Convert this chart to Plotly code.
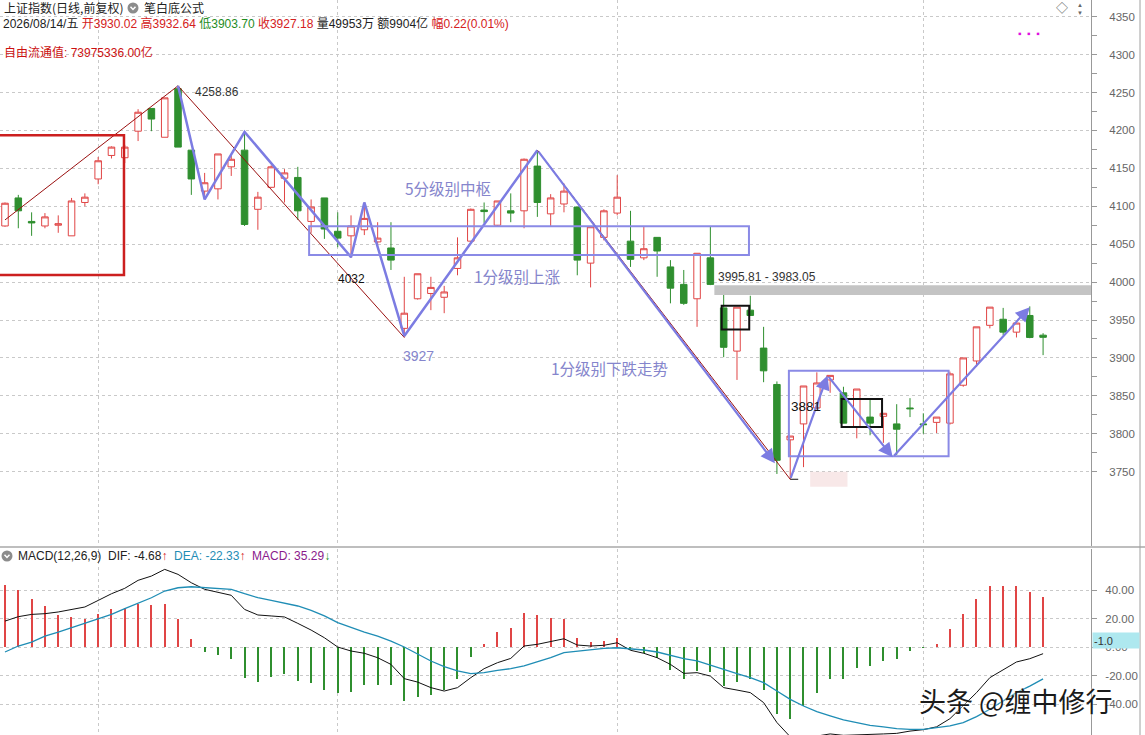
import plotly.graph_objects as go

# ---------------- data ----------------
dates = [
    "2026-04-22", "2026-04-23", "2026-04-24", "2026-04-27", "2026-04-28", "2026-04-29", "2026-04-30",
    "2026-05-06", "2026-05-07", "2026-05-08", "2026-05-11", "2026-05-12", "2026-05-13", "2026-05-14",
    "2026-05-15", "2026-05-18", "2026-05-19", "2026-05-20", "2026-05-21", "2026-05-22", "2026-05-25",
    "2026-05-26", "2026-05-27", "2026-05-28", "2026-05-29",
    "2026-06-01", "2026-06-02", "2026-06-03", "2026-06-04", "2026-06-05", "2026-06-08", "2026-06-09",
    "2026-06-10", "2026-06-11", "2026-06-12", "2026-06-15", "2026-06-16", "2026-06-17", "2026-06-18",
    "2026-06-22", "2026-06-23", "2026-06-24", "2026-06-25", "2026-06-26", "2026-06-29", "2026-06-30",
    "2026-07-01", "2026-07-02", "2026-07-03", "2026-07-06", "2026-07-07", "2026-07-08", "2026-07-09",
    "2026-07-10", "2026-07-13", "2026-07-14", "2026-07-15", "2026-07-16", "2026-07-17", "2026-07-20",
    "2026-07-21", "2026-07-22", "2026-07-23", "2026-07-24", "2026-07-27", "2026-07-28", "2026-07-29",
    "2026-07-30", "2026-07-31",
    "2026-08-03", "2026-08-04", "2026-08-05", "2026-08-06", "2026-08-07", "2026-08-10", "2026-08-11",
    "2026-08-12", "2026-08-13", "2026-08-14",
]

opens = [4074, 4111, 4080, 4074, 4075, 4061, 4105, 4136, 4167, 4164,
         4199, 4229, 4191, 4255, 4174, 4120, 4123, 4152, 4174, 4096,
         4125, 4137, 4138, 4080, 4111, 4067, 4061, 4069, 4053, 4045,
         3939, 3978, 3985, 3980, 4018, 4054, 4095, 4075, 4094, 4094,
         4153, 4090, 4103, 4099, 4025, 4059, 4091, 4054, 4032, 4059,
         4020, 3997, 3978, 4032, 3966, 3909, 3963, 3913, 3865, 3792,
         3813, 3834, 3871, 3854, 3809, 3822, 3823, 3813, 3834, 3813,
         3815, 3814, 3864, 3896, 3943, 3951, 3934, 3956, 3930.02]
highs = [4105, 4115, 4092, 4091, 4088, 4111, 4117, 4165, 4179, 4181,
         4228, 4229, 4243, 4258.86, 4174, 4144, 4169, 4167, 4196, 4119,
         4154, 4149, 4152, 4109, 4111, 4092, 4088, 4105, 4079, 4079,
         4007, 4011, 4007, 3995, 4059, 4097, 4105, 4107, 4117, 4163,
         4174, 4116, 4130, 4099, 4073, 4096, 4141, 4094, 4074, 4059,
         4029, 4016, 4038, 4074, 3983, 3967, 3982, 3941, 3869, 3797,
         3863, 3881, 3877, 3862, 3859, 3846, 3827, 3839, 3847, 3827,
         3822, 3882, 3900, 3941, 3967, 3966, 3946, 3968, 3932.64]
lows = [4073, 4071, 4061, 4071, 4065, 4061, 4100, 4129, 4163, 4157,
        4186, 4199, 4191, 4178, 4115, 4111, 4109, 4140, 4074, 4069,
        4124, 4105, 4082, 4065, 4057, 4046, 4032, 4062, 4047, 4016,
        3927, 3977, 3963, 3959, 4009, 4053, 4078, 4073, 4079, 4071,
        4086, 4074, 4092, 4009, 3993, 4055, 4088, 4020, 4029, 4007,
        3972, 3970, 3941, 3996, 3901, 3871, 3956, 3868, 3747, 3740,
        3756, 3834, 3854, 3814, 3794, 3798, 3788, 3772, 3822, 3800,
        3801, 3812, 3862, 3888, 3939, 3930, 3927, 3926, 3903.70]
closes = [4104, 4094, 4078, 4086, 4077, 4107, 4112, 4160, 4178, 4178,
          4224, 4215, 4243, 4178, 4136, 4131, 4169, 4162, 4076, 4112,
          4152, 4144, 4094, 4099, 4070, 4058, 4074, 4084, 4058, 4029,
          3959, 4011, 3993, 3987, 4032, 4096, 4093, 4107, 4091, 4162,
          4105, 4111, 4120, 4029, 4073, 4094, 4112, 4030, 4044, 4041,
          3992, 3972, 4038, 3997, 3914, 3967, 3956, 3883, 3765, 3797,
          3863, 3867, 3877, 3814, 3859, 3814, 3827, 3806, 3833, 3812,
          3822, 3879, 3900, 3941, 3967, 3934, 3946, 3927, 3927.18]

macd_hist = [43.5, 40, 33.9, 28.8, 22.5, 21, 19.9, 23.4, 26.9, 27.4,
             29.9, 29.5, 30.4, 19.9, 5.8, -3.5, -5.6, -8.2, -21.5, -24.6,
             -21.1, -18.7, -23.9, -25.5, -30.2, -32, -31.3, -26.9, -26.4, -26.9,
             -37.9, -35.1, -33.7, -30.2, -22.2, -7, 2.3, 10.5, 13.6, 24.1,
             22.2, 20.6, 19.9, 6.5, 3.5, 4.2, 6.5, -2, -4.4, -7.5,
             -16, -22.2, -16.8, -17.5, -27.4, -24.6, -22.7, -30.2, -47.3, -50.8,
             -41.4, -32, -22.2, -22.2, -14.5, -13.3, -9.8, -8.2, -2.8, -0.5,
             2.3, 12.9, 22.9, 33.5, 42.8, 42.8, 42.8, 38.8, 35.29]
dif = [18.2, 21.3, 22.9, 23.4, 24.6, 26.4, 28.1, 32.7, 37.4, 41.2,
       46.8, 49.8, 54.5, 51, 45.1, 40.5, 38.6, 36.3, 26.4, 22.5,
       21.8, 21.1, 16.6, 11.9, 6.5, 0, -2.8, -4.4, -7.5, -12.2,
       -22.2, -24.6, -28.5, -30.9, -28.5, -21.5, -15.2, -11, -8, 0.7,
       1.9, 3.7, 5.8, 1.4, 0.7, 1.2, 3, -2.3, -4.4, -7.5,
       -12.2, -18.5, -18, -20.4, -28.5, -30.2, -32, -39, -53, -63,
       -64, -62.5, -61, -62, -61.5, -61.3, -61, -60.6, -59, -58,
       -56, -50.3, -41.4, -32, -21.5, -15.7, -10.5, -8.2, -4.68]
dea = [-3.5, 0.7, 3.5, 7.7, 10.5, 13.6, 16.6, 19.9, 22.9, 26.9,
       30.6, 34.6, 39.3, 41.6, 42.3, 41.6, 41.2, 40.5, 37.4, 34.6,
       32.7, 30.6, 28.8, 25.7, 21.8, 17.1, 13.6, 10.5, 7.7, 4.2,
       0, -5.1, -9.8, -13.8, -16.8, -18.7, -18, -16.4, -15.2, -13.3,
       -10.5, -7.5, -4, -2.8, -1.6, -0.9, -0.5, -1.2, -2.1, -3.5,
       -5.8, -8.2, -9.8, -12.9, -15.7, -18.7, -21.5, -25, -30.9, -36.7,
       -41.4, -45.4, -48.4, -51.2, -53.1, -55, -56.1, -57.3, -57.8, -57.8,
       -56.6, -55.4, -53.1, -48.9, -43.7, -37.9, -32, -27.4, -22.33]

price_ticks = [3750, 3800, 3850, 3900, 3950, 4000, 4050, 4100, 4150, 4200, 4250, 4300, 4350]
macd_ticks = [-40, -20, 0, 20, 40]

# drawing annotations (bar index, price)
zig_x = [13, 15, 18, 26, 27, 30, 40]
zig_y = [4258.86, 4109, 4198, 4033, 4105, 3929, 4174]
arrow_x0 = [40, 59, 61.8, 66.7]
arrow_y0 = [4174, 3740, 3877, 3769]
arrow_x1 = [57.85, 61.8, 66.7, 77]
arrow_y1 = [3761, 3877, 3769, 3967]
red_line_x = [0, 13, 30]
red_line_y = [4082, 4258.86, 3927]
red_line2_x = [40, 59]
red_line2_y = [4174, 3740]
blue_rects = [(22.85, 4035.6, 55.9, 4073.8), (58.9, 3770.5, 70.9, 3883)]
black_rects = [(53.85, 3937.6, 55.92, 3968.7), (62.86, 3809, 65.9, 3846)]
red_rect = (-2, 4009.2, 8.94, 4193.8)
band_lo, band_hi = 3983.05, 3995.81

# ---------------- styles ----------------
RED = "#e04545"
GREEN = "#2f8f2f"
BLUE = "#7c7ce2"
BLUE_TXT = "#8585cc"
FONT = "Liberation Sans, Noto Sans CJK SC, sans-serif"
CJK = "Noto Sans CJK SC, Liberation Sans, sans-serif"
W, H = 1145, 735
PLOT_W = 1091


def px(xp):
    return xp / PLOT_W


def py(yp):
    return 1 - yp / H


xs = list(range(len(dates)))
month_starts = [i for i in range(1, len(dates)) if dates[i][5:7] != dates[i - 1][5:7]]

fig = go.Figure()

fig.add_trace(go.Candlestick(
    x=xs, open=opens, high=highs, low=lows, close=closes,
    increasing=dict(line=dict(color=RED, width=1), fillcolor="white"),
    decreasing=dict(line=dict(color=GREEN, width=1), fillcolor=GREEN),
    whiskerwidth=0, xaxis="x", yaxis="y", hoverinfo="skip", name="K"))

fig.add_trace(go.Scatter(x=red_line_x, y=red_line_y, mode="lines",
                         line=dict(color="#9a1010", width=1), xaxis="x", yaxis="y", hoverinfo="skip"))
fig.add_trace(go.Scatter(x=red_line2_x, y=red_line2_y, mode="lines",
                         line=dict(color="#9a1010", width=1), xaxis="x", yaxis="y", hoverinfo="skip"))
fig.add_trace(go.Scatter(x=zig_x, y=zig_y, mode="lines",
                         line=dict(color=BLUE, width=2.5), xaxis="x", yaxis="y", hoverinfo="skip"))

hist_colors = [RED if v >= 0 else GREEN for v in macd_hist]
fig.add_trace(go.Bar(x=xs, y=macd_hist, width=0.085, marker=dict(color=hist_colors, line=dict(width=0)),
                     xaxis="x2", yaxis="y2", hoverinfo="skip"))
fig.add_trace(go.Scatter(x=xs, y=dif, mode="lines", line=dict(color="#111111", width=1),
                         xaxis="x2", yaxis="y2", hoverinfo="skip"))
fig.add_trace(go.Scatter(x=xs, y=dea, mode="lines", line=dict(color="#1f8db5", width=1.3),
                         xaxis="x2", yaxis="y2", hoverinfo="skip"))

shapes = []
# gray band
shapes.append(dict(type="rect", xref="x", yref="y", x0=53.3, x1=81.7, y0=band_lo, y1=band_hi,
                   fillcolor="#c4c4c4", line=dict(width=0), layer="above"))
# red rect
shapes.append(dict(type="rect", xref="x", yref="y", x0=red_rect[0], y0=red_rect[1], x1=red_rect[2], y1=red_rect[3],
                   line=dict(color="#cc1f1f", width=2.5), layer="above"))
for r in blue_rects:
    shapes.append(dict(type="rect", xref="x", yref="y", x0=r[0], y0=r[1], x1=r[2], y1=r[3],
                       line=dict(color="#8a8ae6", width=2), layer="above"))
for r in black_rects:
    shapes.append(dict(type="rect", xref="x", yref="y", x0=r[0], y0=r[1], x1=r[2], y1=r[3],
                       line=dict(color="#111111", width=2), layer="above"))
# faint smudge near the low
shapes.append(dict(type="rect", xref="x", yref="y", x0=60.5, x1=63.3, y0=3730, y1=3750,
                   fillcolor="rgba(240,205,205,0.45)", line=dict(width=0), layer="above"))
# low marker
shapes.append(dict(type="line", xref="x", yref="y", x0=59, x1=59.6, y0=lows[59], y1=lows[59],
                   line=dict(color="#111", width=1), layer="above"))
# pane separator & frame lines
shapes.append(dict(type="line", xref="paper", yref="paper", x0=0, x1=px(W), y0=py(547), y1=py(547),
                   line=dict(color="#a8a8a8", width=1.5)))
shapes.append(dict(type="line", xref="paper", yref="paper", x0=px(1140), x1=px(1140), y0=0, y1=1,
                   line=dict(color="#a0a0a0", width=1)))
# round grey menu icons (circle + white chevron)
for cx, cy in [(133, 8), (7, 556)]:
    shapes.append(dict(type="circle", xref="paper", yref="paper",
                       x0=px(cx - 5.5), x1=px(cx + 5.5), y0=py(cy + 5.5), y1=py(cy - 5.5),
                       fillcolor="#8c8c8c", line=dict(width=0), layer="above"))
    shapes.append(dict(type="path", xref="paper", yref="paper",
                       path=f"M {px(cx - 2.5)} {py(cy - 1.2)} L {px(cx)} {py(cy + 1.5)} L {px(cx + 2.5)} {py(cy - 1.2)}",
                       line=dict(color="white", width=1.5), layer="above"))
fig.update_layout(shapes=shapes)

ann = []
for x0, y0, x1, y1 in zip(arrow_x0, arrow_y0, arrow_x1, arrow_y1):
    ann.append(dict(x=x1, y=y1, ax=x0, ay=y0, xref="x", yref="y", axref="x", ayref="y",
                    text="", showarrow=True, arrowhead=2, arrowsize=1.3, arrowwidth=2.2,
                    arrowcolor=BLUE, standoff=0))


def label(text, x, y, size=12, color="#222", xanchor="left", font=FONT, xref="x", yref="y", **kw):
    d = dict(text=text, x=x, y=y, xref=xref, yref=yref, showarrow=False, xanchor=xanchor,
             yanchor="middle", font=dict(family=font, size=size, color=color))
    d.update(kw)
    ann.append(d)


label(f"{highs[13]:.2f}", 14.1, 4250.5, 12, "#333")
label(f"{lows[26]:.0f}", 26, 4004, 12, "#111", xanchor="center")
label(f"{lows[30]:.0f}", 31.1, 3902, 14, BLUE_TXT, xanchor="center")
label("3881", 58.9, 3836.5, 13.5, "#111")
label("5分级别中枢", 29.9, 4124, 15.5, BLUE_TXT, font=CJK)
label("1分级别上涨", 35.1, 4008, 15.5, BLUE_TXT, font=CJK)
label("1分级别下跌走势", 40.9, 3887, 15.5, BLUE_TXT, font=CJK)
label(f"{band_hi:.2f} - {band_lo:.2f}", 53.4, 4006.5, 12, "#333")

# header
R, G = "#d42020", "#1e8c1e"
label("上证指数(日线,前复权)", px(2), py(8), 12, "#222", font=CJK, xref="paper", yref="paper")
label("笔白底公式", px(142), py(8), 12, "#222", font=CJK, xref="paper", yref="paper")
last = len(dates) - 1
hdr = (f"2026/08/14/五 <span style='color:{R}'>开{opens[last]:.2f}</span> "
       f"<span style='color:{R}'>高{highs[last]:.2f}</span> "
       f"<span style='color:{G}'>低{lows[last]:.2f}</span> "
       f"<span style='color:{R}'>收{closes[last]:.2f}</span> 量49953万 额9904亿 "
       f"<span style='color:{R}'>幅0.22(0.01%)</span>")
label(hdr, px(1), py(24), 12, "#222", xref="paper", yref="paper")
label("自由流通值: 73975336.00亿", px(2), py(52), 12, "#cc1111", xref="paper", yref="paper")
label("◇", px(1062), py(9), 12, "#666", xanchor="center", xref="paper", yref="paper")
label("▲", px(1080), py(5), 6, "#666", xanchor="center", xref="paper", yref="paper")
label("▼", px(1080), py(12.5), 6, "#666", xanchor="center", xref="paper", yref="paper")
label("▪  ▪  ▪", px(1029), py(34), 10, "#e010e0", xanchor="center", xref="paper", yref="paper")

# MACD header
mh = (f"MACD(12,26,9)  DIF: {dif[last]:.2f}<span style='color:{R}'>↑</span>  "
      f"<span style='color:#1f8db5'>DEA: {dea[last]:.2f}</span><span style='color:{R}'>↑</span>  "
      f"<span style='color:#8b1a8b'>MACD: {macd_hist[last]:.2f}</span><span style='color:{G}'>↓</span>")
label(mh, px(16), py(556), 12, "#222", xref="paper", yref="paper")

# cyan current-value box on the MACD axis
ann.append(dict(text="-1.0", x=px(1092), y=py(640), xref="paper", yref="paper", showarrow=False,
                xanchor="left", yanchor="middle", align="left", bgcolor="#aee8ef", width=44, height=13,
                font=dict(family=FONT, size=11, color="#333")))
# watermark
ann.append(dict(text="头条 @缠中修行", x=px(1016), y=py(700), xref="paper", yref="paper", showarrow=False,
                xanchor="center", yanchor="middle",
                font=dict(family=CJK, size=27, color="#1a1a1a", shadow="0px 0px 3px white")))
fig.update_layout(annotations=ann)

grid = dict(showgrid=True, gridcolor="#c9c9c9", griddash="dot", gridwidth=1)
xcommon = dict(range=[-0.376, 81.6], tickmode="array", tickvals=month_starts, showticklabels=False,
               ticks="", zeroline=False, showline=False, **grid)
fig.update_layout(
    width=W, height=H, margin=dict(l=0, r=W - PLOT_W, t=0, b=0),
    paper_bgcolor="white", plot_bgcolor="white", showlegend=False, hovermode=False,
    xaxis=dict(domain=[0, 1], anchor="y", rangeslider=dict(visible=False), **xcommon),
    xaxis2=dict(domain=[0, 1], anchor="y2", matches="x", **xcommon),
    yaxis=dict(domain=[py(546), 1], range=[3652, 4372], side="right", tickmode="array",
               tickvals=price_ticks, ticks="outside", ticklen=5, tickcolor="#999",
               minor=dict(tickvals=[t + 25 for t in price_ticks], ticks="outside", ticklen=5, tickcolor="#999"),
               showline=True, linecolor="#999", zeroline=False, ticklabelstandoff=10,
               tickfont=dict(family=FONT, size=11.5, color="#666"), **grid),
    yaxis2=dict(domain=[0, py(549)], range=[-61.75, 68.8], side="right", tickmode="array",
                tickvals=macd_ticks, ticktext=[f"{t:.2f}" for t in macd_ticks], ticks="outside",
                ticklen=5, tickcolor="#999", showline=True, linecolor="#999", zeroline=False,
                ticklabelstandoff=6, tickfont=dict(family=FONT, size=11.5, color="#666"), **grid),
    bargap=0,
)

fig.write_html("out.html", config={"displayModeBar": False},
               post_script="document.body.style.margin='0px';document.body.style.padding='0px';")
